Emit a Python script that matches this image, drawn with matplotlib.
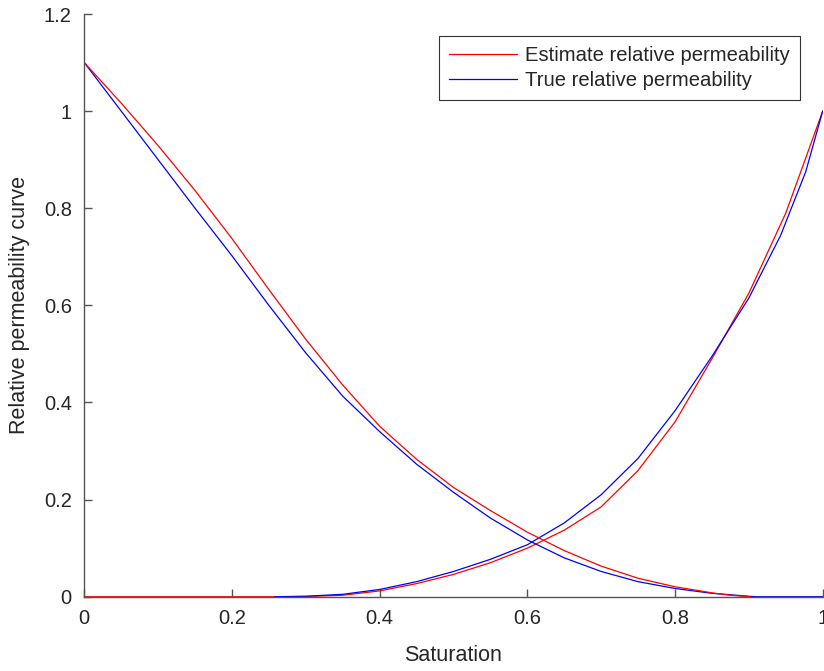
import matplotlib
matplotlib.use("Agg")
import matplotlib.pyplot as plt

# Estimated curves (red)
s_est_dec = [0, 0.05, 0.1, 0.15, 0.2, 0.25, 0.3, 0.35, 0.4, 0.45,
             0.5, 0.55, 0.6, 0.65, 0.7, 0.75, 0.8, 0.85, 0.875, 0.902]
k_est_dec = [1.10, 1.0165, 0.929, 0.8365, 0.7375, 0.6325, 0.530, 0.436, 0.351, 0.283,
             0.225, 0.1775, 0.133, 0.095, 0.063, 0.038, 0.0205, 0.008, 0.003, 0.0]
s_est_inc = [0, 0.26, 0.3, 0.35, 0.4, 0.45, 0.5, 0.55, 0.6, 0.65, 0.7,
             0.75, 0.8, 0.85, 0.9, 0.95, 1.0]
k_est_inc = [0, 0, 0.0005, 0.003, 0.012, 0.027, 0.046, 0.070, 0.100, 0.137, 0.185,
             0.260, 0.360, 0.490, 0.625, 0.790, 1.0]

# True curves (blue)
s_true_dec = [0, 0.05, 0.1, 0.15, 0.2, 0.25, 0.3, 0.35, 0.4, 0.45, 0.5,
              0.55, 0.6, 0.65, 0.7, 0.75, 0.8, 0.85, 0.9, 0.91, 1.0]
k_true_dec = [1.10, 1.0, 0.9, 0.8, 0.702, 0.60, 0.502, 0.413, 0.340, 0.273, 0.215,
              0.162, 0.117, 0.080, 0.052, 0.031, 0.017, 0.007, 0.001, 0.0, 0.0]
s_true_inc = [0.258, 0.3, 0.35, 0.4, 0.45, 0.5, 0.55, 0.6, 0.65, 0.7,
              0.75, 0.8, 0.85, 0.9, 0.943, 0.977, 1.0]
k_true_inc = [0, 0.001, 0.005, 0.015, 0.031, 0.052, 0.077, 0.107, 0.152, 0.210,
              0.285, 0.383, 0.495, 0.615, 0.744, 0.875, 1.0]

x_ticks = [0, 0.2, 0.4, 0.6, 0.8, 1]
x_labels = ["0", "0.2", "0.4", "0.6", "0.8", "1"]
y_ticks = [0, 0.2, 0.4, 0.6, 0.8, 1, 1.2]
y_labels = ["0", "0.2", "0.4", "0.6", "0.8", "1", "1.2"]

AXIS = "#555555"
TEXT = "#262626"

plt.rcParams["font.family"] = ["Liberation Sans", "DejaVu Sans"]

fig = plt.figure(figsize=(8.24, 6.71), dpi=100)
ax = fig.add_axes([0.1023, 0.1107, 0.8961, 0.8684])

ax.plot(s_est_inc, k_est_inc, color="red", lw=0.9, label="Estimate relative permeability")
ax.plot(s_true_dec, k_true_dec, color="blue", lw=0.9, label="True relative permeability")
ax.plot(s_true_inc, k_true_inc, color="blue", lw=0.9)
ax.plot(s_est_dec, k_est_dec, color="red", lw=0.9)

ax.set_xlim(0, 1)
ax.set_ylim(0, 1.2)
ax.set_xticks(x_ticks)
ax.set_xticklabels(x_labels)
ax.set_yticks(y_ticks)
ax.set_yticklabels(y_labels)

for side in ("top", "right"):
    ax.spines[side].set_visible(False)
for side in ("left", "bottom"):
    ax.spines[side].set_color(AXIS)
    ax.spines[side].set_linewidth(1.0)

ax.tick_params(direction="in", length=6, width=1.0, color=AXIS,
               labelsize=14.5, labelcolor=TEXT, pad=9)
ax.set_xlabel("Saturation", fontsize=15.5, color=TEXT, labelpad=12)
ax.set_ylabel("Relative permeability curve", fontsize=15.5, color=TEXT, labelpad=10)

handles, labels = ax.get_legend_handles_labels()
leg = ax.legend(handles, labels, loc="upper right",
                bbox_to_anchor=(800 / 824, 1 - 36 / 671),
                bbox_transform=fig.transFigure, fontsize=14.6,
                fancybox=False, framealpha=1, edgecolor="#333333",
                handlelength=3.35, handletextpad=0.4, borderaxespad=0,
                borderpad=0.5, labelspacing=0.28)
leg.get_frame().set_linewidth(0.8)
for t in leg.get_texts():
    t.set_color(TEXT)

fig.savefig("out.png", dpi=100, facecolor="white")
